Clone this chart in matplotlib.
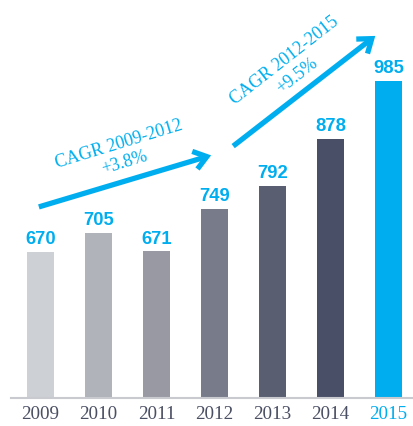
import matplotlib
matplotlib.use("Agg")
import matplotlib.pyplot as plt

years = ["2009", "2010", "2011", "2012", "2013", "2014", "2015"]
values = [670, 705, 671, 749, 792, 878, 985]
bar_colors = ["#cdd0d4", "#b0b3ba", "#9899a3", "#777b8a", "#5a5e71", "#494f67", "#00aeef"]
cagr_labels = ["CAGR 2009-2012\n+3.8%", "CAGR 2012-2015\n+9.5%"]

BLUE = "#00aeef"
DARK = "#4b4f63"

fig = plt.figure(figsize=(4.13, 4.27), dpi=100)
ax = fig.add_axes([11/413, 28/427, 1 - 11/413, 399/427])
x = list(range(len(years)))
ax.bar(x, values, width=0.466, color=bar_colors, zorder=2)
ax.set_xlim(-0.51, 6.42)
ax.set_ylim(401, 1136)

for xi, v in zip(x, values):
    ax.text(xi, v + 9, str(v), ha="center", va="bottom", color=BLUE,
            fontsize=13.3, fontweight="bold", family="Liberation Sans")

for s in ["top", "right", "left"]:
    ax.spines[s].set_visible(False)
ax.spines["bottom"].set_color("#c8cad0")
ax.spines["bottom"].set_linewidth(1.5)
ax.set_yticks([])
ax.set_xticks(x)
ax.set_xticklabels(years, family="Liberation Serif", fontsize=13.8, color=DARK)
ax.tick_params(axis="x", length=0, pad=5)
ax.get_xticklabels()[-1].set_color(BLUE)

# arrows
arrow_kw = dict(arrowstyle="->,head_length=0.75,head_width=0.55", color=BLUE, lw=3.8,
                mutation_scale=12, shrinkA=0, shrinkB=0, capstyle="butt",
                joinstyle="miter")
ax.annotate("", xy=(2.94, 848), xytext=(-0.03, 753), arrowprops=arrow_kw)
ax.annotate("", xy=(5.77, 1068), xytext=(3.32, 865), arrowprops=arrow_kw)

ax.text(1.40, 853, cagr_labels[0], ha="center", va="center", rotation=17,
        rotation_mode="anchor", color=BLUE, family="Liberation Serif", fontsize=13,
        linespacing=1.2)
ax.text(4.31, 1010, cagr_labels[1], ha="center", va="center", rotation=38,
        rotation_mode="anchor", color=BLUE, family="Liberation Serif", fontsize=13,
        linespacing=1.2)

fig.savefig("out.png", dpi=100)
